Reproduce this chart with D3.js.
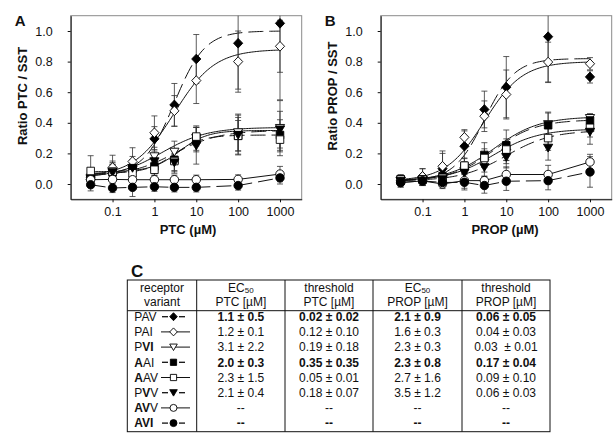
<!DOCTYPE html>
<html lang="en">
<head>
<meta charset="UTF-8">
<title>Receptor variants - PTC / PROP response</title>
<script src="https://cdnjs.cloudflare.com/ajax/libs/d3/7.8.5/d3.min.js"></script>
<style>
  body { margin: 0; background: #fff; }
  svg text { font-family: 'Liberation Sans', Arial, sans-serif; fill: #111; }
</style>
</head>
<body>
<svg id="chart" width="616" height="440"></svg>
<script>
// ---- data ----
const doses = [0.03, 0.1, 0.3, 1, 3, 10, 100, 1000];
const xTicks = [0.1, 1, 10, 100, 1000];
const yTicks = [0, 0.2, 0.4, 0.6, 0.8, 1.0];

const variants = ["PAV", "PAI", "PVI", "AAI", "AAV", "PVV", "AVV", "AVI"];
const shapes   = ["diamond", "diamond", "triangle", "square", "square", "triangle", "circle", "circle"];
const filled   = [true, false, false, true, false, true, false, true];
// which letters of the variant name are bold
const boldLetters = [[0,0,0],[0,0,0],[0,1,1],[1,0,0],[1,0,0],[0,1,0],[1,1,0],[1,1,1]];

// panel A: ratio PTC / SST (rows follow variants)
const ptcMeans = [
  [0.03, 0.07, 0.10, 0.295, 0.517, 0.817, 0.92, 1.05],
  [0.04, 0.108, 0.147, 0.335, 0.478, 0.676, 0.80, 0.90],
  [0.04, 0.08, 0.09, 0.18, 0.21, 0.30, 0.337, 0.365],
  [0.04, 0.075, 0.10, 0.115, 0.158, 0.29, 0.315, 0.32],
  [0.085, 0.08, 0.07, 0.093, 0.15, 0.31, 0.315, 0.29],
  [0.03, 0.075, 0.104, 0.147, 0.14, 0.25, 0.32, 0.355],
  [0.028, 0.03, 0.028, 0.028, 0.028, 0.028, 0.03, 0.065],
  [-0.005, -0.026, -0.022, -0.018, -0.022, -0.022, -0.01, 0.04]
];
const ptcErrors = [
  [0.04, 0.08, 0.08, 0.08, 0.14, 0.16, 0.30, 0.50],
  [0.04, 0.08, 0.09, 0.11, 0.10, 0.15, 0.20, 0.17],
  [0.04, 0.05, 0.05, 0.06, 0.07, 0.08, 0.12, 0.18],
  [0.04, 0.05, 0.06, 0.06, 0.07, 0.08, 0.10, 0.10],
  [0.10, 0.06, 0.05, 0.05, 0.08, 0.06, 0.12, 0.08],
  [0.04, 0.05, 0.05, 0.05, 0.06, 0.12, 0.13, 0.12],
  [0.03, 0.03, 0.03, 0.03, 0.03, 0.03, 0.03, 0.05],
  [0.04, 0.03, 0.06, 0.03, 0.03, 0.03, 0.03, 0.04]
];
// sigmoid fit parameters (null = points joined by straight lines)
const ptcFitBottom = [0.06, 0.05, 0.04, 0.07, 0.08, 0.05, null, null];
const ptcFitTop    = [1.00, 0.88, 0.37, 0.32, 0.35, 0.35, null, null];
const ptcFitEC50   = [3, 3, 1.5, 3, 4, 3, null, null];
const ptcFitHill   = [1.2, 0.9, 0.8, 1.3, 1.3, 0.8, null, null];

// panel B: ratio PROP / SST
const propMeans = [
  [0.02, 0.05, 0.10, 0.247, 0.487, 0.633, 0.963, 0.70],
  [0.02, 0.05, 0.116, 0.305, 0.443, 0.585, 0.797, 0.786],
  [0.02, 0.02, 0.03, 0.083, 0.138, 0.203, 0.39, 0.43],
  [0.03, 0.03, 0.05, 0.116, 0.19, 0.253, 0.384, 0.415],
  [0.03, 0.03, 0.04, 0.12, 0.17, 0.225, 0.30, 0.367],
  [0.02, 0.02, 0.03, 0.072, 0.109, 0.175, 0.236, 0.34],
  [0.01, 0.02, 0.00, 0.022, 0.022, 0.062, 0.062, 0.144],
  [0.01, 0.02, 0.01, 0.011, -0.01, 0.018, 0.022, 0.079]
];
const propErrors = [
  [0.03, 0.05, 0.10, 0.10, 0.12, 0.20, 0.30, 0.04],
  [0.03, 0.05, 0.10, 0.05, 0.10, 0.16, 0.13, 0.04],
  [0.03, 0.03, 0.04, 0.05, 0.06, 0.07, 0.08, 0.03],
  [0.03, 0.03, 0.04, 0.05, 0.08, 0.10, 0.08, 0.04],
  [0.03, 0.03, 0.04, 0.05, 0.06, 0.07, 0.08, 0.06],
  [0.03, 0.03, 0.04, 0.05, 0.06, 0.07, 0.08, 0.08],
  [0.03, 0.03, 0.03, 0.05, 0.03, 0.05, 0.06, 0.05],
  [0.03, 0.03, 0.03, 0.05, 0.05, 0.06, 0.06, 0.10]
];
const propFitBottom = [0.02, 0.02, 0.02, 0.02, 0.02, 0.02, null, null];
const propFitTop    = [0.82, 0.80, 0.44, 0.42, 0.36, 0.35, null, null];
const propFitEC50   = [3, 3, 5, 5, 5, 10, null, null];
const propFitHill   = [1.2, 0.95, 0.8, 0.85, 0.8, 0.8, null, null];

// panel C: table
const ec50Ptc  = ["1.1 ± 0.5", "1.2 ± 0.1", "3.1 ± 2.2", "2.0 ± 0.3", "2.3 ± 1.5", "2.1 ± 0.4", "--", "--"];
const thrPtc   = ["0.02 ± 0.02", "0.12 ± 0.10", "0.19 ± 0.18", "0.35 ± 0.35", "0.05 ± 0.01", "0.18 ± 0.07", "--", "--"];
const ec50Prop = ["2.1 ± 0.9", "1.6 ± 0.3", "2.3 ± 0.3", "2.3 ± 0.8", "2.7 ± 1.6", "3.5 ± 1.2", "--", "--"];
const thrProp  = ["0.06 ± 0.05", "0.04 ± 0.03", "0.03 \u00a0± 0.01", "0.17 ± 0.04", "0.09 ± 0.10", "0.06 ± 0.03", "--", "--"];
const boldRows = [true, false, false, true, false, false, false, true];

// ---- drawing ----
const svg = d3.select("#chart");

function markerPath(shape, s) {
  // s = half size
  if (shape === "diamond") return `M0,${-s*1.05}L${s},0L0,${s*1.05}L${-s},0Z`;
  if (shape === "square") return `M${-s*0.82},${-s*0.82}H${s*0.82}V${s*0.82}H${-s*0.82}Z`;
  if (shape === "triangle") return `M${-s},${-s*0.8}H${s}L0,${s*0.9}Z`;
  return d3.path ? circlePath(s * 0.92) : "";
}
function circlePath(r) {
  const p = d3.path();
  p.arc(0, 0, r, 0, 2 * Math.PI);
  p.closePath();
  return p.toString();
}

function drawPanel(ox, letter, xLabel, xLabelX, yLabel, means, errs, fB, fT, fE, fH) {
  const W = 231, H = 183.6, top = 15.7;
  const g = svg.append("g").attr("transform", `translate(${ox},${top})`);
  const x = d3.scaleLog().domain([0.01, 3300]).range([0, W]);
  const y = d3.scaleLinear().domain([-0.1, 1.1]).range([H, 0]);

  const clipId = "clip" + letter;
  g.append("clipPath").attr("id", clipId)
    .append("rect").attr("width", W).attr("height", H);

  g.append("rect").attr("width", W).attr("height", H)
    .attr("fill", "none").attr("stroke", "#8a8a8a").attr("stroke-width", 1);

  const plot = g.append("g").attr("clip-path", `url(#${clipId})`);

  // fit curves / joined lines
  const line = d3.line().x(d => x(d[0])).y(d => y(d[1]));
  const samples = d3.range(121).map(i => 0.03 * Math.pow(1000 / 0.03, i / 120));
  variants.forEach((v, k) => {
    let pts;
    if (fB[k] === null) {
      pts = doses.map((d, i) => [d, means[k][i]]);
    } else {
      pts = samples.map(d => [d, fB[k] + (fT[k] - fB[k]) / (1 + Math.pow(fE[k] / d, fH[k]))]);
    }
    plot.append("path")
      .attr("d", line(pts))
      .attr("fill", "none")
      .attr("stroke", "#111")
      .attr("stroke-width", 1)
      .attr("stroke-dasharray", filled[k] ? "15,6" : null);
  });

  // error bars
  variants.forEach((v, k) => {
    const eg = plot.append("g").attr("stroke", "#333").attr("stroke-width", 0.8);
    doses.forEach((d, i) => {
      const m = means[k][i], e = errs[k][i];
      const cx = x(d), y1 = y(m + e), y2 = y(m - e);
      eg.append("line").attr("x1", cx).attr("x2", cx).attr("y1", y1).attr("y2", y2);
      eg.append("line").attr("x1", cx - 3).attr("x2", cx + 3).attr("y1", y1).attr("y2", y1);
      eg.append("line").attr("x1", cx - 3).attr("x2", cx + 3).attr("y1", y2).attr("y2", y2);
    });
  });

  // markers (open ones drawn last-to-first so filled sit below)
  variants.forEach((v, k) => {
    plot.selectAll(null)
      .data(doses.map((d, i) => [d, means[k][i]]))
      .enter().append("path")
      .attr("transform", d => `translate(${x(d[0])},${y(d[1])})`)
      .attr("d", markerPath(shapes[k], 4.6))
      .attr("fill", filled[k] ? "#000" : "#fff")
      .attr("stroke", "#000")
      .attr("stroke-width", 0.9);
  });

  // axes
  const yAxis = d3.axisLeft(y).tickValues(yTicks).tickFormat(d3.format(".1f"))
    .tickSize(3).tickSizeOuter(0).tickPadding(15);
  const xAxis = d3.axisBottom(x).tickValues(xTicks).tickFormat(d3.format("~g"))
    .tickSize(3).tickSizeOuter(0).tickPadding(5);
  const ya = g.append("g").call(yAxis);
  const xa = g.append("g").attr("transform", `translate(0,${H})`).call(xAxis);
  [ya, xa].forEach(a => {
    a.selectAll("text").attr("font-size", 12.5).style("font-family", "'Liberation Sans', Arial, sans-serif").attr("fill", "#111");
    a.selectAll("line, path").attr("stroke", "#111");
  });

  // labels
  svg.append("text")
    .attr("transform", `translate(${ox - 48},96) rotate(-90)`)
    .attr("text-anchor", "middle").attr("dy", "0.35em")
    .attr("font-size", 13).attr("font-weight", "bold")
    .text(yLabel);
  svg.append("text")
    .attr("x", xLabelX).attr("y", 234)
    .attr("text-anchor", "middle")
    .attr("font-size", 13).attr("font-weight", "bold")
    .text(xLabel);
  svg.append("text")
    .attr("x", ox - 56).attr("y", 26.3)
    .attr("font-size", 15).attr("font-weight", "bold")
    .text(letter);
}

drawPanel(70.7, "A", "PTC (µM)", 188, "Ratio PTC / SST",
  ptcMeans, ptcErrors, ptcFitBottom, ptcFitTop, ptcFitEC50, ptcFitHill);
drawPanel(380.7, "B", "PROP (µM)", 505, "Ratio PROP / SST",
  propMeans, propErrors, propFitBottom, propFitTop, propFitEC50, propFitHill);

// ---- table C ----
const colX = [127.3, 196.7, 285, 373, 462, 550];
const tTop = 280, tHead = 310.7, tBottom = 431.7;
const rowY0 = 316.7, rowStep = 15.2;
const tbl = svg.append("g");

svg.append("text").attr("x", 131).attr("y", 277)
  .attr("font-size", 17).attr("font-weight", "bold").text("C");

tbl.append("rect")
  .attr("x", colX[0]).attr("y", tTop)
  .attr("width", colX[5] - colX[0]).attr("height", tBottom - tTop)
  .attr("fill", "none").attr("stroke", "#111").attr("stroke-width", 1);
tbl.append("line").attr("x1", colX[0]).attr("x2", colX[5])
  .attr("y1", tHead).attr("y2", tHead).attr("stroke", "#111");
colX.slice(1, 5).forEach(cx => {
  tbl.append("line").attr("x1", cx).attr("x2", cx)
    .attr("y1", tTop).attr("y2", tBottom).attr("stroke", "#111");
});

const colMid = d3.range(5).map(i => (colX[i] + colX[i + 1]) / 2);
const headers = [["receptor", "variant"], ["EC50", "PTC [µM]"], ["threshold", "PTC [µM]"],
                 ["EC50", "PROP [µM]"], ["threshold", "PROP [µM]"]];
headers.forEach((h, i) => {
  [0, 1].forEach(j => {
    const t = tbl.append("text")
      .attr("x", colMid[i]).attr("y", 291.6 + j * 14.4)
      .attr("text-anchor", "middle").attr("font-size", 12);
    if (h[j] === "EC50") {
      t.append("tspan").text("EC");
      t.append("tspan").attr("font-size", 8).attr("dy", 1.5).text("50");
    } else {
      t.text(h[j]);
    }
  });
});

const columns = [ec50Ptc, thrPtc, ec50Prop, thrProp];
variants.forEach((v, k) => {
  const cy = rowY0 + k * rowStep;
  // variant name with bold letters
  const nt = tbl.append("text").attr("x", 134.3).attr("y", cy + 4.3).attr("font-size", 12);
  v.split("").forEach((ch, j) => {
    nt.append("tspan").attr("font-weight", boldLetters[k][j] ? "bold" : "normal").text(ch);
  });
  // legend symbol
  const lg = tbl.append("g").attr("transform", `translate(0,${cy})`);
  if (filled[k]) {
    [[162, 168], [179, 185]].forEach(seg => {
      lg.append("line").attr("x1", seg[0]).attr("x2", seg[1])
        .attr("y1", 0).attr("y2", 0).attr("stroke", "#111").attr("stroke-width", 1.3);
    });
  } else {
    lg.append("line").attr("x1", 161).attr("x2", 190)
      .attr("y1", 0).attr("y2", 0).attr("stroke", "#111").attr("stroke-width", 1);
  }
  lg.append("path")
    .attr("transform", "translate(173.5,0)")
    .attr("d", markerPath(shapes[k], 3.8))
    .attr("fill", filled[k] ? "#000" : "#fff")
    .attr("stroke", "#000").attr("stroke-width", 0.9);
  // values
  columns.forEach((col, c) => {
    tbl.append("text")
      .attr("x", colMid[c + 1]).attr("y", cy + 4.3)
      .attr("text-anchor", "middle").attr("font-size", 12)
      .attr("font-weight", boldRows[k] ? "bold" : "normal")
      .style("white-space", "pre")
      .text(col[k]);
  });
});
</script>
</body>
</html>
